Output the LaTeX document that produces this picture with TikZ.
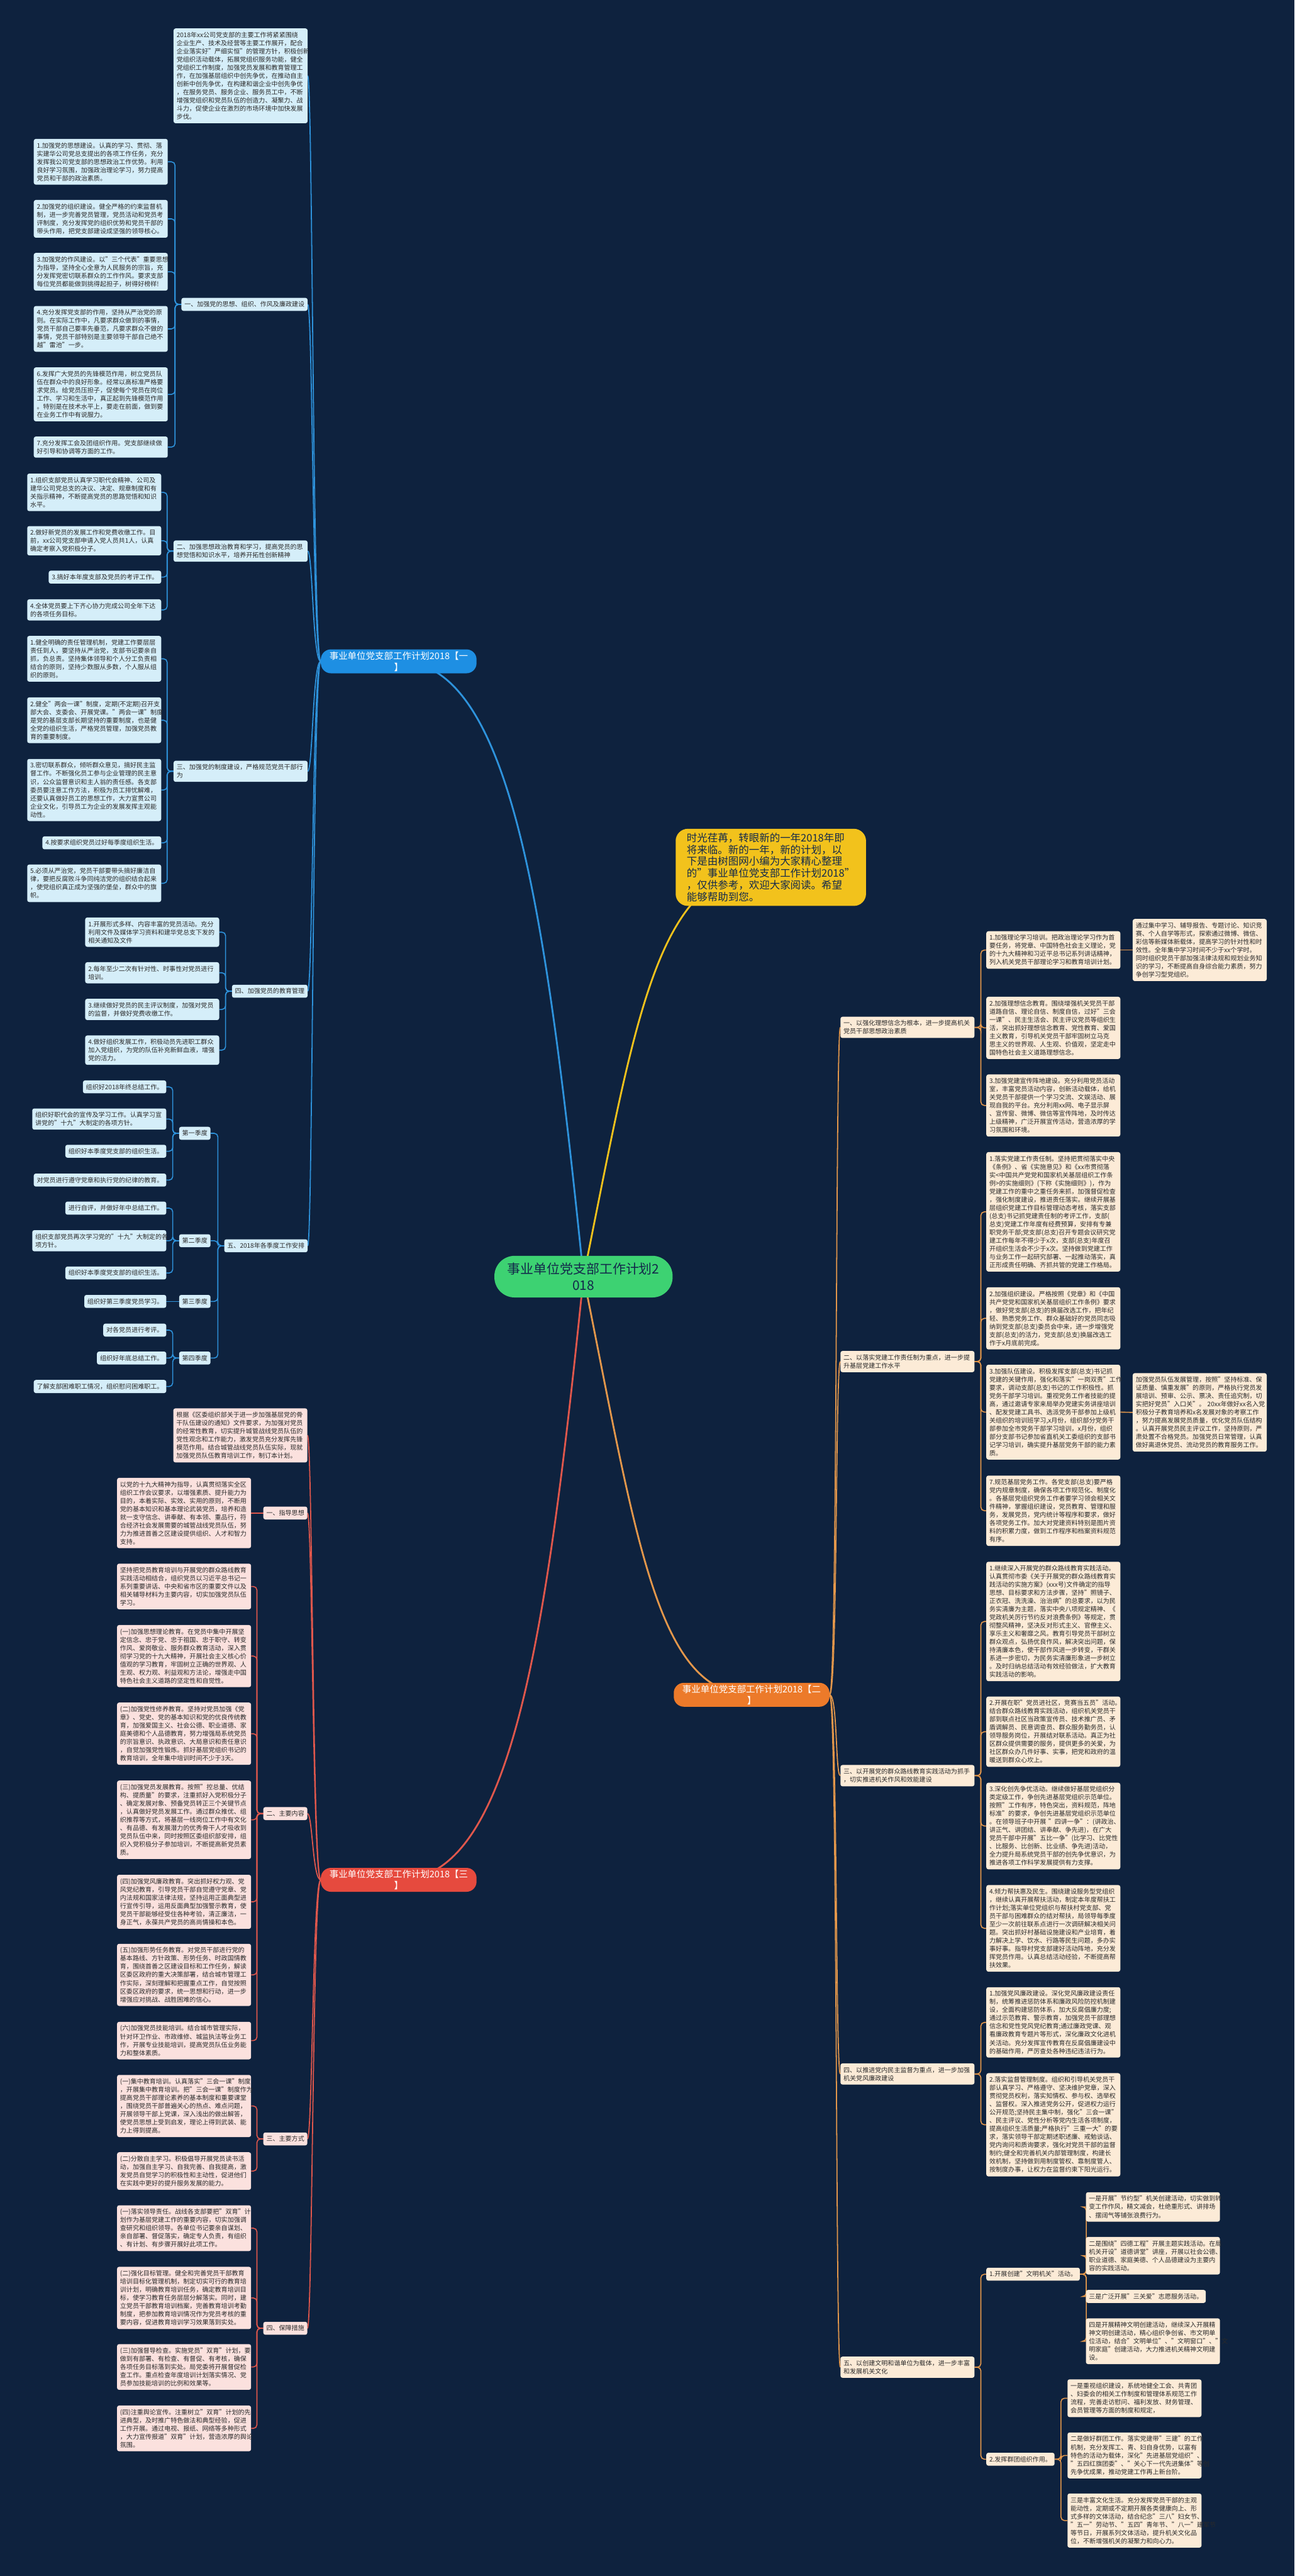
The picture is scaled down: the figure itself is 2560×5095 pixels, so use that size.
\documentclass[tikz,border=0pt]{standalone}
\usepackage{fontspec}
\setmainfont{Noto Sans CJK SC}
\pgfdeclarelayer{bg}
\pgfsetlayers{bg,main}
\definecolor{bgc}{HTML}{0E223E}
\definecolor{tc}{HTML}{2A2A2A}
\definecolor{bf}{HTML}{D5EEF9}
\definecolor{of}{HTML}{FCEBD7}
\definecolor{rf}{HTML}{FBE1DE}
\definecolor{bl}{HTML}{2E93DC}
\definecolor{ol}{HTML}{E3974B}
\definecolor{rl}{HTML}{E0574C}
\definecolor{bn}{HTML}{1E8FE3}
\definecolor{on}{HTML}{EC7A2A}
\definecolor{rn}{HTML}{E64A3E}
\definecolor{gc}{HTML}{3DD272}
\definecolor{yc}{HTML}{F2C21C}
\definecolor{dk}{HTML}{13294B}
\newcommand\leaffont{\fontsize{12.5}{16.2}\selectfont}
\newcommand\lvfont{\fontsize{18}{22.5}\selectfont}
\newcommand\ctrfont{\fontsize{26}{32}\selectfont}
\newcommand\introfont{\fontsize{20.5}{23.5}\selectfont}
\newcommand\elL[3]{\draw[#1] (#2.west) -- ++(-12.5,0) |- (#3.east);}
\newcommand\elR[3]{\draw[#1] (#2.east) -- ++(12.5,0) |- (#3.west);}
\newcommand\cvL[3]{\draw[#1] (#2.west) .. controls +(-16,0) and +(10,0) .. (#3.east);}
\newcommand\cvR[3]{\draw[#1] (#2.east) .. controls +(16,0) and +(-10,0) .. (#3.west);}
\tikzset{
  bx/.style={rounded corners=4pt, inner xsep=6pt, inner ysep=7pt, align=left, font=\leaffont, text=tc},
  wd/.style={text width=253pt},
  bleaf/.style={bx, fill=bf},
  oleaf/.style={bx, fill=of},
  rleaf/.style={bx, fill=rf},
  lvone/.style={rounded corners=20pt, inner xsep=17pt, inner ysep=4pt, align=center, font=\lvfont, text=white},
  eb/.style={draw=bl, line width=2pt, rounded corners=7pt},
  eo/.style={draw=ol, line width=2pt, rounded corners=7pt},
  er/.style={draw=rl, line width=2pt, rounded corners=7pt},
  kb/.style={draw=bl, line width=2.2pt},
  ko/.style={draw=ol, line width=2.2pt},
  kr/.style={draw=rl, line width=2.2pt},
}
\begin{document}
\begin{tikzpicture}[x=1pt,y=-1pt]
\begin{pgfonlayer}{bg}
\fill[bgc] (0,0) rectangle (2560,5095);
\end{pgfonlayer}
\useasboundingbox (0,0) rectangle (2560,5095);

% ===== center, intro, level one =====
\node[fill=gc, rounded corners=40pt, inner xsep=26pt, inner ysep=14pt, align=center, font=\ctrfont, text=dk] (C) at (1154,2525) {事业单位党支部工作计划2\\018};
\node[fill=yc, rounded corners=24pt, inner xsep=22pt, inner ysep=8pt, align=left, font=\introfont, text=dk] (I) at (1524.5,1715.5) {时光荏苒，转眼新的一年2018年即\\将来临。新的一年，新的计划，以\\下是由树图网小编为大家精心整理\\的"事业单位党支部工作计划2018"\\，仅供参考，欢迎大家阅读。希望\\能够帮助到您。};
\node[lvone, fill=bn] (A1) at (788.5,1308) {事业单位党支部工作计划2018【一\\】};
\node[lvone, fill=on] (A2) at (1486.5,3352) {事业单位党支部工作计划2018【二\\】};
\node[lvone, fill=rn] (A3) at (788.5,3718) {事业单位党支部工作计划2018【三\\】};

% ===== plan one (blue) =====
\node[bleaf,wd,anchor=east] (a0) at (608.5,150) {2018年xx公司党支部的主要工作将紧紧围绕\\企业生产、技术及经营等主要工作展开，配合\\企业落实好"严细实恒"的管理方针，积极创新\\党组织活动载体，拓展党组织服务功能，健全\\党组织工作制度，加强党员发展和教育管理工\\作，在加强基层组织中创先争优，在推动自主\\创新中创先争优，在构建和谐企业中创先争优\\，在服务党员、服务企业、服务员工中，不断\\增强党组织和党员队伍的创造力、凝聚力、战\\斗力，促使企业在激烈的市场环境中加快发展\\步伐。};
\node[bleaf,anchor=east] (a1) at (608.5,602) {一、加强党的思想、组织、作风及廉政建设};
\node[bleaf,wd,anchor=east] (l11) at (332,320) {1.加强党的思想建设。认真的学习、贯彻、落\\实建华公司党总支提出的各项工作任务，充分\\发挥我公司党支部的思想政治工作优势。利用\\良好学习氛围，加强政治理论学习，努力提高\\党员和干部的政治素质。};
\node[bleaf,wd,anchor=east] (l12) at (332,432.8) {2.加强党的组织建设。健全严格的约束监督机\\制，进一步完善党员管理，党员活动和党员考\\评制度，充分发挥党的组织优势和党员干部的\\带头作用，把党支部建设成坚强的领导核心。};
\node[bleaf,wd,anchor=east] (l13) at (332,537.5) {3.加强党的作风建设。以"三个代表"重要思想\\为指导，坚持全心全意为人民服务的宗旨，充\\分发挥党密切联系群众的工作作风。要求支部\\每位党员都能做到挑得起担子，树得好榜样!};
\node[bleaf,wd,anchor=east] (l14) at (332,650.5) {4.充分发挥党支部的作用，坚持从严治党的原\\则。在实际工作中，凡要求群众做到的事情，\\党员干部自己要率先垂范，凡要求群众不做的\\事情，党员干部特别是主要领导干部自己绝不\\越"雷池"一步。};
\node[bleaf,wd,anchor=east] (l16) at (332,780) {6.发挥广大党员的先锋模范作用，树立党员队\\伍在群众中的良好形象。经常以高标准严格要\\求党员。给党员压担子，促使每个党员在岗位\\工作、学习和生活中，真正起到先锋模范作用\\。特别是在技术水平上，要走在前面，做到要\\在业务工作中有说服力。};
\node[bleaf,wd,anchor=east] (l17) at (332,884.3) {7.充分发挥工会及团组织作用。党支部继续做\\好引导和协调等方面的工作。};

\node[bleaf,wd,anchor=east] (a2) at (608.5,1090) {二、加强思想政治教育和学习，提高党员的思\\想觉悟和知识水平，培养开拓性创新精神};
\node[bleaf,wd,anchor=east] (l21) at (319,973.8) {1.组织支部党员认真学习职代会精神、公司及\\建华公司党总支的决议、决定、规章制度和有\\关指示精神，不断提高党员的思路觉悟和知识\\水平。};
\node[bleaf,wd,anchor=east] (l22) at (319,1069.5) {2.做好新党员的发展工作和党费收缴工作。目\\前，xx公司党支部申请入党人员共1人，认真\\确定考察入党积极分子。};
\node[bleaf,anchor=east] (l23) at (319,1141.5) {3.搞好本年度支部及党员的考评工作。};
\node[bleaf,wd,anchor=east] (l24) at (319,1206.3) {4.全体党员要上下齐心协力完成公司全年下达\\的各项任务目标。};

\node[bleaf,wd,anchor=east] (a3) at (608.5,1525.5) {三、加强党的制度建设，严格规范党员干部行\\为};
\node[bleaf,wd,anchor=east] (l31) at (319,1303) {1.健全明确的责任管理机制，党建工作要层层\\责任到人，要坚持从严治党，支部书记要亲自\\抓，负总责。坚持集体领导和个人分工负责相\\结合的原则，坚持少数服从多数，个人服从组\\织的原则。};
\node[bleaf,wd,anchor=east] (l32) at (319,1424.5) {2.健全"两会一课"制度，定期(不定期)召开支\\部大会、支委会、开展党课。"两会一课"制度\\是党的基层支部长期坚持的重要制度，也是健\\全党的组织生活，严格党员管理，加强党员教\\育的重要制度。};
\node[bleaf,wd,anchor=east] (l33) at (319,1562.5) {3.密切联系群众，倾听群众意见，搞好民主监\\督工作。不断强化员工参与企业管理的民主意\\识，公众监督意识和主人翁的责任感。各支部\\委员要注意工作方法，积极为员工排忧解难，\\还要认真做好员工的思想工作，大力宣贯公司\\企业文化，引导员工为企业的发展发挥主观能\\动性。};
\node[bleaf,anchor=east] (l34) at (319,1667) {4.按要求组织党员过好每季度组织生活。};
\node[bleaf,wd,anchor=east] (l35) at (319,1747) {5.必须从严治党，党员干部要带头搞好廉洁自\\律，要把反腐败斗争同纯洁党的组织结合起来\\，使党组织真正成为坚强的堡垒，群众中的旗\\帜。};

\node[bleaf,anchor=east] (a4) at (608.5,1960.5) {四、加强党员的教育管理};
\node[bleaf,wd,anchor=east] (l41) at (433.7,1843.7) {1.开展形式多样、内容丰富的党员活动。充分\\利用文件及媒体学习资料和建华党总支下发的\\相关通知及文件};
\node[bleaf,wd,anchor=east] (l42) at (433.7,1924) {2.每年至少二次有针对性、时事性对党员进行\\培训。};
\node[bleaf,wd,anchor=east] (l43) at (433.7,1996.5) {3.继续做好党员的民主评议制度，加强对党员\\的监督，并做好党费收缴工作。};
\node[bleaf,wd,anchor=east] (l44) at (433.7,2077) {4.做好组织发展工作，积极动员先进职工群众\\加入党组织，为党的队伍补充新鲜血液，增强\\党的活力。};

\node[bleaf,anchor=east] (a5) at (608.5,2464) {五、2018年各季度工作安排};
\node[bleaf,anchor=east] (Q1) at (416.5,2241.5) {第一季度};
\node[bleaf,anchor=east] (Q2) at (416.5,2454) {第二季度};
\node[bleaf,anchor=east] (Q3) at (416.5,2574) {第三季度};
\node[bleaf,anchor=east] (Q4) at (416.5,2686) {第四季度};
\node[bleaf,anchor=east] (q11) at (329,2149.7) {组织好2018年终总结工作。};
\node[bleaf,wd,anchor=east] (q12) at (329,2213.3) {组织好职代会的宣传及学习工作。认真学习宣\\讲党的"十九"大制定的各项方针。};
\node[bleaf,anchor=east] (q13) at (329,2277) {组织好本季度党支部的组织生活。};
\node[bleaf,anchor=east] (q14) at (329,2334) {对党员进行遵守党章和执行党的纪律的教育。};
\node[bleaf,anchor=east] (q21) at (329,2389.5) {进行自评，并做好年中总结工作。};
\node[bleaf,wd,anchor=east] (q22) at (329,2454) {组织支部党员再次学习党的"十九"大制定的各\\项方针。};
\node[bleaf,anchor=east] (q23) at (329,2517.8) {组织好本季度党支部的组织生活。};
\node[bleaf,anchor=east] (q31) at (329,2574) {组织好第三季度党员学习。};
\node[bleaf,anchor=east] (q41) at (329,2630.8) {对各党员进行考评。};
\node[bleaf,anchor=east] (q42) at (329,2686) {组织好年底总结工作。};
\node[bleaf,anchor=east] (q43) at (329,2742.3) {了解支部困难职工情况，组织慰问困难职工。};

% ===== plan three (red) =====
\node[rleaf,wd,anchor=east] (b0) at (608,2839) {根据《区委组织部关于进一步加强基层党的骨\\干队伍建设的通知》文件要求，为加强对党员\\的经常性教育，切实提升城管战线党员队伍的\\党性观念和工作能力，激发党员充分发挥先锋\\模范作用。结合城管战线党员队伍实际，现就\\加强党员队伍教育培训工作，制订本计划。};
\node[rleaf,anchor=east] (b1) at (608,2992.5) {一、指导思想};
\node[rleaf,wd,anchor=east] (m1) at (496.7,2992.5) {以党的十九大精神为指导，认真贯彻落实全区\\组织工作会议要求，以增强素质、提升能力为\\目的，本着实际、实效、实用的原则，不断用\\党的基本知识和基本理论武装党员，培养和造\\就一支守信念、讲奉献、有本领、重品行，符\\合经济社会发展需要的城管战线党员队伍，努\\力为推进首善之区建设提供组织、人才和智力\\支持。};
\node[rleaf,anchor=east] (b2) at (608,3587) {二、主要内容};
\node[rleaf,wd,anchor=east] (m2a) at (496.7,3137.8) {坚持把党员教育培训与开展党的群众路线教育\\实践活动相结合，组织党员以习近平总书记一\\系列重要讲话、中央和省市区的重要文件以及\\相关辅导材料为主要内容，切实加强党员队伍\\学习。};
\node[rleaf,wd,anchor=east] (m2b) at (496.7,3275.5) {(一)加强思想理论教育。在党员中集中开展坚\\定信念、忠于党、忠于祖国、忠于职守、转变\\作风、爱岗敬业、服务群众教育活动，深入贯\\彻学习党的十九大精神，开展社会主义核心价\\值观的学习教育，牢固树立正确的世界观、人\\生观、权力观、利益观和方法论，增强走中国\\特色社会主义道路的坚定性和自觉性。};
\node[rleaf,wd,anchor=east] (m2c) at (496.7,3429) {(二)加强党性修养教育。坚持对党员加强《党\\章》、党史、党的基本知识和党的优良传统教\\育，加强爱国主义、社会公德、职业道德、家\\庭美德和个人品德教育，努力增强局系统党员\\的宗旨意识、执政意识、大局意识和责任意识\\，自觉加强党性锻炼。抓好基层党组织书记的\\教育培训，全年集中培训时间不少于3天。};
\node[rleaf,wd,anchor=east] (m2d) at (496.7,3599.3) {(三)加强党员发展教育。按照"控总量、优结\\构、提质量"的要求，注重抓好入党积极分子\\、确定发展对象、预备党员转正三个关键节点\\，认真做好党员发展工作。通过群众推优、组\\织推荐等方式，将基层一线岗位工作中有文化\\、有品德、有发展潜力的优秀骨干人才吸收到\\党员队伍中来，同时按照区委组织部安排，组\\织入党积极分子参加培训，不断提高新党员素\\质。};
\node[rleaf,wd,anchor=east] (m2e) at (496.7,3761.5) {(四)加强党风廉政教育。突出抓好权力观、党\\风党纪教育，引导党员干部自觉遵守党章、党\\内法规和国家法律法规，坚持运用正面典型进\\行宣传引导，运用反面典型加强警示教育，使\\党员干部能够经受住各种考验，清正廉洁，一\\身正气，永葆共产党员的高尚情操和本色。};
\node[rleaf,wd,anchor=east] (m2f) at (496.7,3906) {(五)加强形势任务教育。对党员干部进行党的\\基本路线、方针政策、形势任务、时政国情教\\育，围绕首善之区建设目标和工作任务，解读\\区委区政府的重大决策部署，结合城市管理工\\作实际，深刻理解和把握重点工作，自觉按照\\区委区政府的要求，统一思想和行动，进一步\\增强应对挑战、战胜困难的信心。};
\node[rleaf,wd,anchor=east] (m2g) at (496.7,4036) {(六)加强党员技能培训。结合城市管理实际，\\针对环卫作业、市政维修、城监执法等业务工\\作，开展专业技能培训，提高党员队伍业务能\\力和整体素质。};
\node[rleaf,anchor=east] (b3) at (608,4230.5) {三、主要方式};
\node[rleaf,wd,anchor=east] (m3a) at (496.7,4165.3) {(一)集中教育培训。认真落实"三会一课"制度\\，开展集中教育培训。把"三会一课"制度作为\\提高党员干部理论素养的基本制度和重要课堂\\，围绕党员干部普遍关心的热点、难点问题，\\开展领导干部上党课，深入浅出的做出解答，\\使党员思想上受到启发，理论上得到武装、能\\力上得到提高。};
\node[rleaf,wd,anchor=east] (m3b) at (496.7,4294) {(二)分散自主学习。积极倡导开展党员读书活\\动，加强自主学习、自我完善、自我提高，激\\发党员自觉学习的积极性和主动性，促进他们\\在实践中更好的提升服务发展的能力。};
\node[rleaf,anchor=east] (b4) at (608,4605) {四、保障措施};
\node[rleaf,wd,anchor=east] (m4a) at (496.7,4407) {(一)落实领导责任。战线各支部要把"双育"计\\划作为基层党建工作的重要内容，切实加强调\\查研究和组织领导。各单位书记要亲自谋划、\\亲自部署、督促落实，确定专人负责，有组织\\、有计划、有步骤开展好此项工作。};
\node[rleaf,wd,anchor=east] (m4b) at (496.7,4545) {(二)强化目标管理。健全和完善党员干部教育\\培训目标化管理机制，制定切实可行的教育培\\训计划，明确教育培训任务，确定教育培训目\\标，使学习教育任务层层分解落实。同时，建\\立党员干部教育培训档案，完善教育培训考勤\\制度，把参加教育培训情况作为党员考核的重\\要内容，促进教育培训学习效果落到实处。};
\node[rleaf,wd,anchor=east] (m4c) at (496.7,4681.5) {(三)加强督导检查。实施党员"双育"计划，要\\做到有部署、有检查、有督促、有考核，确保\\各项任务目标落到实处。局党委将开展督促检\\查工作。重点检查年度培训计划落实情况、党\\员参加技能培训的比例和效果等。};
\node[rleaf,wd,anchor=east] (m4d) at (496.7,4803) {(四)注重舆论宣传。注重树立"双育"计划的先\\进典型，及时推广特色做法和典型经验，促进\\工作开展。通过电视、报纸、网络等多种形式\\，大力宣传报道"双育"计划，营造浓厚的舆论\\氛围。};

% ===== plan two (orange) =====
\node[oleaf,wd,anchor=west] (c1) at (1662,2032) {一、以强化理想信念为根本，进一步提高机关\\党员干部思想政治素质};
\node[oleaf,wd,anchor=west] (c2) at (1662,2693) {二、以落实党建工作责任制为重点，进一步提\\升基层党建工作水平};
\node[oleaf,wd,anchor=west] (c3) at (1662,3512) {三、以开展党的群众路线教育实践活动为抓手\\，切实推进机关作风和效能建设};
\node[oleaf,wd,anchor=west] (c4) at (1662,4102) {四、以推进党内民主监督为重点，进一步加强\\机关党风廉政建设};
\node[oleaf,wd,anchor=west] (c5) at (1662,4682) {五、以创建文明和谐单位为载体，进一步丰富\\和发展机关文化};

\node[oleaf,wd,anchor=west] (d11) at (1950.5,1879) {1.加强理论学习培训。把政治理论学习作为首\\要任务，将党章、中国特色社会主义理论，党\\的十九大精神和习近平总书记系列讲话精神，\\列入机关党员干部理论学习和教育培训计划。};
\node[oleaf,wd,anchor=west] (e11) at (2240,1879) {通过集中学习、辅导报告、专题讨论、知识竞\\赛、个人自学等形式，探索通过微博、微信、\\彩信等新媒体新载体，提高学习的针对性和时\\效性。全年集中学习时间不少于xx个学时。\\同时组织党员干部加强法律法规和规划业务知\\识的学习，不断提高自身综合能力素质，努力\\争创学习型党组织。};
\node[oleaf,wd,anchor=west] (d12) at (1950.5,2033) {2.加强理想信念教育。围绕增强机关党员干部\\道路自信、理论自信、制度自信，过好"三会\\一课"、民主生活会、民主评议党员等组织生\\活，突出抓好理想信念教育、党性教育、爱国\\主义教育，引导机关党员干部牢固树立马克\\思主义的世界观、人生观、价值观，坚定走中\\国特色社会主义道路理想信念。};
\node[oleaf,wd,anchor=west] (d13) at (1950.5,2186.5) {3.加强党建宣传阵地建设。充分利用党员活动\\室，丰富党员活动内容，创新活动载体，给机\\关党员干部提供一个学习交流、文娱活动、展\\现自我的平台。充分利用xx网、电子显示屏\\、宣传窗、微博、微信等宣传阵地，及时传达\\上级精神，广泛开展宣传活动，营造浓厚的学\\习氛围和环境。};
\node[oleaf,wd,anchor=west] (d21) at (1950.5,2396.8) {1.落实党建工作责任制。坚持把贯彻落实中央\\《条例》、省《实施意见》和《xx市贯彻落\\实<中国共产党党和国家机关基层组织工作条\\例>的实施细则》(下称《实施细则》)，作为\\党建工作的重中之重任务来抓，加强督促检查\\，强化制度建设，推进责任落实。继续开展基\\层组织党建工作目标管理动态考核，落实支部\\(总支)书记抓党建责任制的考评工作，支部(\\总支)党建工作年度有经费预算，安排有专兼\\职党务干部;党支部(总支)召开专题会议研究党\\建工作每年不得少于x次，支部(总支)年度召\\开组织生活会不少于x次。坚持做到党建工作\\与业务工作一起研究部署、一起推动落实，真\\正形成责任明确、齐抓共管的党建工作格局。};
\node[oleaf,wd,anchor=west] (d22) at (1950.5,2607.5) {2.加强组织建设。严格按照《党章》和《中国\\共产党党和国家机关基层组织工作条例》要求\\，做好党支部(总支)的换届改选工作，把年纪\\轻、熟悉党务工作、群众基础好的党员同志吸\\纳到党支部(总支)委员会中来，进一步增强党\\支部(总支)的活力，党支部(总支)换届改选工\\作于x月底前完成。};
\node[oleaf,wd,anchor=west] (d23) at (1950.5,2793) {3.加强队伍建设。积极发挥支部(总支)书记抓\\党建的关键作用，强化和落实"一岗双责"工作\\要求，调动支部(总支)书记的工作积极性。抓\\党务干部学习培训。重视党务工作者技能的提\\高，通过邀请专家来局举办党建实务讲座培训\\、配发党建工具书、选派党务干部参加上级机\\关组织的培训班学习,x月份，组织部分党务干\\部参加全市党务干部学习培训，x月份，组织\\部分支部书记参加省直机关工委组织的支部书\\记学习培训，确实提升基层党务干部的能力素\\质。};
\node[oleaf,wd,anchor=west] (e23) at (2240,2793.5) {加强党员队伍发展管理，按照"坚持标准、保\\证质量、慎重发展"的原则，严格执行党员发\\展培训、预审、公示、票决、责任追究制，切\\实把好党员"入口关"。~20xx年做好xx名入党\\积极分子教育培养和x名发展对象的考察工作\\，努力提高发展党员质量，优化党员队伍结构\\。认真开展党员民主评议工作，坚持原则，严\\肃处置不合格党员。加强党员日常管理，认真\\做好离退休党员、流动党员的教育服务工作。};
\node[oleaf,wd,anchor=west] (d24) at (1950.5,2988) {7.规范基层党务工作。各党支部(总支)要严格\\党内规章制度，确保各项工作规范化、制度化\\。各基层党组织党务工作者要学习领会相关文\\件精神，掌握组织建设，党员教育、管理和服\\务，发展党员，党内统计等程序和要求，做好\\各项党务工作。加大对党建资料特别是图片资\\料的积累力度，做到工作程序和档案资料规范\\有序。};
\node[oleaf,wd,anchor=west] (d31) at (1950.5,3207) {1.继续深入开展党的群众路线教育实践活动。\\认真贯彻市委《关于开展党的群众路线教育实\\践活动的实施方案》(xxx号)文件确定的指导\\思想、目标要求和方法步骤，坚持"照镜子、\\正衣冠、洗洗澡、治治病"的总要求，以为民\\务实清廉为主题，落实中央八项规定精神、《\\党政机关厉行节约反对浪费条例》等规定，贯\\彻整风精神，坚决反对形式主义、官僚主义、\\享乐主义和奢靡之风。教育引导党员干部树立\\群众观点，弘扬优良作风，解决突出问题，保\\持清廉本色，使干部作风进一步转变，干群关\\系进一步密切，为民务实清廉形象进一步树立\\。及时归纳总结活动有效经验做法，扩大教育\\实践活动的影响。};
\node[oleaf,wd,anchor=west] (d32) at (1950.5,3425) {2.开展在职"党员进社区，竞赛当五员"活动。\\结合群众路线教育实践活动，组织机关党员干\\部到联点社区当政策宣传员、技术推广员、矛\\盾调解员、民意调查员、群众服务勤务员，认\\领导服务岗位，开展结对联系活动。真正为社\\区群众提供需要的服务，提供更多的关爱，为\\社区群众办几件好事、实事，把党和政府的温\\暖送到群众心坎上。};
\node[oleaf,wd,anchor=west] (d33) at (1950.5,3611.6) {3.深化创先争优活动。继续做好基层党组织分\\类定级工作，争创先进基层党组织示范单位。\\按照"工作有序，特色突出，资料规范，阵地\\标准"的要求，争创先进基层党组织示范单位\\。在领导班子中开展~"四讲一争"：(讲政治、\\讲正气、讲团结、讲奉献、争先进)，在广大\\党员干部中开展"五比一争"(比学习、比党性\\、比服务、比创新、比业绩、争先进)活动，\\全力提升局系统党员干部的创先争优意识，为\\推进各项工作科学发展提供有力支撑。};
\node[oleaf,wd,anchor=west] (d34) at (1950.5,3814) {4.倾力帮扶惠及民生。围绕建设服务型党组织\\，继续认真开展帮扶活动，制定本年度帮扶工\\作计划;落实单位党组织与帮扶村党支部、党\\员干部与困难群众的结对帮扶，局领导每季度\\至少一次前往联系点进行一次调研解决相关问\\题。突出抓好村基础设施建设和产业培育，着\\力解决上学、饮水、行路等民生问题，多办实\\事好事。指导村党支部建好活动阵地，充分发\\挥党员作用。认真总结活动经验，不断提高帮\\扶效果。};
\node[oleaf,wd,anchor=west] (d41) at (1950.5,4000) {1.加强党风廉政建设。深化党风廉政建设责任\\制，统筹推进惩防体系和廉政风险防控机制建\\设，全面构建惩防体系，加大反腐倡廉力度;\\通过示范教育、警示教育，加强党员干部理想\\信念和党性党风党纪教育;通过廉政党课、观\\看廉政教育专题片等形式，深化廉政文化进机\\关活动。充分发挥宣传教育在反腐倡廉建设中\\的基础作用，严厉查处各种违纪违法行为。};
\node[oleaf,wd,anchor=west] (d42) at (1950.5,4202.5) {2.落实监督管理制度。组织和引导机关党员干\\部认真学习、严格遵守、坚决维护党章，深入\\贯彻党员权利，落实知情权、参与权、选举权\\、监督权。深入推进党务公开，促进权力运行\\公开规范;坚持民主集中制，强化"三会一课"\\、民主评议、党性分析等党内生活各项制度，\\提高组织生活质量;严格执行"三重一大"的要\\求，落实领导干部定期述职述廉、戒勉谈话、\\党内询问和质询要求，强化对党员干部的监督\\制约;健全和完善机关内部管理制度，构建长\\效机制，坚持做到用制度管权、靠制度管人、\\按制度办事，让权力在监督约束下阳光运行。};
\node[oleaf,anchor=west] (d51) at (1950.5,4498) {1.开展创建"文明机关"活动。};
\node[oleaf,wd,anchor=west] (f51a) at (2147.5,4365) {一是开展"节约型"机关创建活动，切实做到转\\变工作作风，精文减会，杜绝重形式、讲排场\\、摆阔气等铺张浪费行为。};
\node[oleaf,wd,anchor=west] (f51b) at (2147.5,4461.5) {二是围绕"四德工程"开展主题实践活动。在局\\机关开设"道德讲堂"讲座，开展以社会公德、\\职业道德、家庭美德、个人品德建设为主要内\\容的实践活动。};
\node[oleaf,anchor=west] (f51c) at (2147.5,4542) {三是广泛开展"三关爱"志愿服务活动。};
\node[oleaf,wd,anchor=west] (f51d) at (2147.5,4630.6) {四是开展精神文明创建活动，继续深入开展精\\神文明创建活动，精心组织争创省、市文明单\\位活动，结合"文明单位"、"文明窗口"、"文\\明家庭"创建活动，大力推进机关精神文明建\\设。};
\node[oleaf,anchor=west] (d52) at (1950.5,4864) {2.发挥群团组织作用。};
\node[oleaf,wd,anchor=west] (f52a) at (2111,4743.3) {一是重视组织建设，系统地健全工会、共青团\\、妇委会的相关工作制度和管理体系规范工作\\流程，完善走访慰问、福利发放、财务管理、\\会员管理等方面的制度和规定，};
\node[oleaf,wd,anchor=west] (f52b) at (2111,4856.5) {二是做好群团工作。落实党建带"三建"的工作\\机制，充分发挥工、青、妇自身优势，以富有\\特色的活动为载体，深化"先进基层党组织"、\\"五四红旗团委"、"关心下一代先进集体"等创\\先争优成果，推动党建工作再上新台阶。};
\node[oleaf,wd,anchor=west] (f52c) at (2111,4985.3) {三是丰富文化生活。充分发挥党员干部的主观\\能动性，定期或不定期开展各类健康向上、形\\式多样的文体活动，结合纪念"三八"妇女节、\\"五一"劳动节、"五四"青年节、"八一"建军节\\等节日，开展系列文体活动，提升机关文化品\\位，不断增强机关的凝聚力和向心力。};

% ===== connectors =====
\begin{pgfonlayer}{bg}
\draw[draw=bl, line width=3.5pt] (C.center) .. controls (1080,1800) and (1010,1308) .. (A1.center);
\draw[draw=rl, line width=3.5pt] (C.center) .. controls (1080,3250) and (1010,3718) .. (A3.center);
\draw[draw=yc, line width=3.5pt] (C.center) .. controls (1260,2000) and (1300,1715) .. (I.center);
\draw[draw=ol, line width=3.5pt] (C.center) .. controls (1260,3050) and (1300,3352) .. (A2.center);

\foreach \t in {a0,a1,a2,a3,a4,a5} {\cvL{kb}{A1}{\t}}
\foreach \t in {l11,l12,l13,l14,l16,l17} {\elL{eb}{a1}{\t}}
\foreach \t in {l21,l22,l23,l24} {\elL{eb}{a2}{\t}}
\foreach \t in {l31,l32,l33,l34,l35} {\elL{eb}{a3}{\t}}
\foreach \t in {l41,l42,l43,l44} {\elL{eb}{a4}{\t}}
\foreach \t in {Q1,Q2,Q3,Q4} {\elL{eb}{a5}{\t}}
\foreach \t in {q11,q12,q13,q14} {\elL{eb}{Q1}{\t}}
\foreach \t in {q21,q22,q23} {\elL{eb}{Q2}{\t}}
\draw[eb] (Q3.west) -- (q31.east);
\foreach \t in {q41,q42,q43} {\elL{eb}{Q4}{\t}}

\foreach \t in {b0,b1,b2,b3,b4} {\cvL{kr}{A3}{\t}}
\draw[er] (b1.west) -- (m1.east);
\foreach \t in {m2a,m2b,m2c,m2d,m2e,m2f,m2g} {\elL{er}{b2}{\t}}
\foreach \t in {m3a,m3b} {\elL{er}{b3}{\t}}
\foreach \t in {m4a,m4b,m4c,m4d} {\elL{er}{b4}{\t}}

\foreach \t in {c1,c2,c3,c4,c5} {\cvR{ko}{A2}{\t}}
\foreach \t in {d11,d12,d13} {\elR{eo}{c1}{\t}}
\draw[eo] (d11.east) -- (e11.west);
\foreach \t in {d21,d22,d23,d24} {\elR{eo}{c2}{\t}}
\draw[eo] (d23.east) -- (e23.west);
\foreach \t in {d31,d32,d33,d34} {\elR{eo}{c3}{\t}}
\foreach \t in {d41,d42} {\elR{eo}{c4}{\t}}
\foreach \t in {d51,d52} {\elR{eo}{c5}{\t}}
\foreach \t in {f51a,f51b,f51c,f51d} {\elR{eo}{d51}{\t}}
\foreach \t in {f52a,f52b,f52c} {\elR{eo}{d52}{\t}}
\end{pgfonlayer}
\end{tikzpicture}
\end{document}
